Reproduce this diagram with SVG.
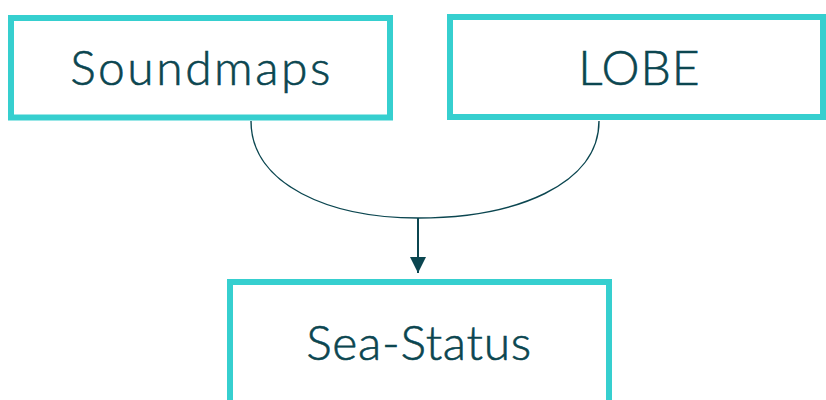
<svg xmlns="http://www.w3.org/2000/svg" width="826" height="400" viewBox="0 0 826 400">
  <style>
    .box { fill: #ffffff; stroke: #36CFCF; stroke-width: 6; }
    .label { font-family: Lato, "Open Sans", sans-serif; font-weight: 300; font-size: 48px; letter-spacing: 1px; fill: #0B4650; stroke: #0B4650; stroke-width: 0.6px; text-anchor: middle; }
    .edge { fill: none; stroke: #0B4650; }
  </style>
  <defs>
    <marker id="arrow" viewBox="0 0 16 16" refX="16" refY="8" markerWidth="16" markerHeight="16" markerUnits="userSpaceOnUse" orient="auto">
      <path d="M0,0 L16,8 L0,16 Z" fill="#0B4650"/>
    </marker>
  </defs>
  <rect width="826" height="400" fill="#ffffff"/>
  <g id="connectors">
    <path class="edge" stroke-width="1.4" d="M251,121 C251,185 330,218 418,218 C515,218 599,185 599,121"/>
    <path class="edge" stroke-width="2" d="M418,218 L418,273" marker-end="url(#arrow)"/>
  </g>
  <g id="node-soundmaps">
    <rect class="box" x="11" y="18" width="379" height="99.5"/>
    <text class="label" x="201.5" y="85" style="letter-spacing:2.5px">Soundmaps</text>
  </g>
  <g id="node-lobe">
    <rect class="box" x="450" y="17" width="373" height="100"/>
    <text class="label" x="639.5" y="85">LOBE</text>
  </g>
  <g id="node-seastatus">
    <rect class="box" x="230" y="282" width="379" height="140"/>
    <text class="label" x="419" y="360" style="letter-spacing:0.7px">Sea-Status</text>
  </g>
</svg>
